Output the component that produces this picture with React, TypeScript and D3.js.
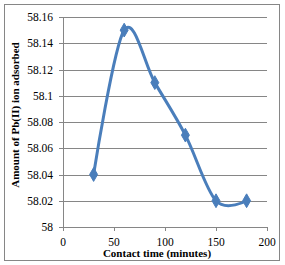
import * as React from 'react'
import * as d3 from 'd3'

const WIDTH = 285
const HEIGHT = 265
const MARGIN = { left: 63, right: 18, top: 17, bottom: 38 }

const contactTimes = [30, 60, 90, 120, 150, 180]
const amountAdsorbed = [58.04, 58.15, 58.11, 58.07, 58.02, 58.02]
const xTicks = [0, 50, 100, 150, 200]
const yTicks = [58, 58.02, 58.04, 58.06, 58.08, 58.1, 58.12, 58.14, 58.16]

const GRAY = '#868686'
const BLUE = '#4a7ebb'
const FONT = '"Liberation Serif", "Times New Roman", serif'

export default function App() {
  const x = d3
    .scaleLinear()
    .domain([0, 200])
    .range([MARGIN.left, WIDTH - MARGIN.right])
  const y = d3
    .scaleLinear()
    .domain([58, 58.16])
    .range([HEIGHT - MARGIN.bottom, MARGIN.top])

  const points: [number, number][] = contactTimes.map((t, i) => [
    x(t),
    y(amountAdsorbed[i])
  ])
  const line = d3.line().curve(d3.curveCardinal.tension(0))(points) || ''
  const diamond = d3.symbol(d3.symbolDiamond, 55)() || ''

  return (
    <svg
      width={WIDTH}
      height={HEIGHT}
      style={{ position: 'absolute', left: 0, top: 0, background: '#fff' }}
    >
      <rect
        x={4.5}
        y={4.5}
        width={275}
        height={256}
        fill="#fff"
        stroke={GRAY}
        strokeWidth={1}
      />
      {/* gridlines */}
      {yTicks.map(v => (
        <line
          key={'g' + v}
          x1={x(0)}
          x2={x(200)}
          y1={Math.round(y(v)) + 0.5}
          y2={Math.round(y(v)) + 0.5}
          stroke={GRAY}
        />
      ))}
      {/* y axis */}
      <line
        x1={x(0) + 0.5}
        x2={x(0) + 0.5}
        y1={y(58.16)}
        y2={y(58)}
        stroke={GRAY}
      />
      {yTicks.map(v => (
        <g key={'y' + v}>
          <line
            x1={x(0) - 4}
            x2={x(0)}
            y1={Math.round(y(v)) + 0.5}
            y2={Math.round(y(v)) + 0.5}
            stroke={GRAY}
          />
          <text
            x={x(0) - 10}
            y={y(v)}
            dy="0.35em"
            textAnchor="end"
            fontFamily={FONT}
            fontSize={11.5}
            fill="#000"
          >
            {d3.format('')(+v.toFixed(2))}
          </text>
        </g>
      ))}
      {/* x axis ticks */}
      {xTicks.map(v => (
        <g key={'x' + v}>
          <line
            x1={Math.round(x(v)) + 0.5}
            x2={Math.round(x(v)) + 0.5}
            y1={y(58)}
            y2={y(58) + 4}
            stroke={GRAY}
          />
          <text
            x={x(v)}
            y={y(58) + 19}
            textAnchor="middle"
            fontFamily={FONT}
            fontSize={11.5}
            fill="#000"
          >
            {v}
          </text>
        </g>
      ))}
      {/* series */}
      <path d={line} fill="none" stroke={BLUE} strokeWidth={3} />
      {points.map(([px, py], i) => (
        <path
          key={'m' + i}
          d={diamond}
          transform={`translate(${px},${py})`}
          fill={BLUE}
          stroke={BLUE}
        />
      ))}
      {/* titles */}
      <text
        x={157}
        y={257}
        textAnchor="middle"
        fontFamily={FONT}
        fontWeight="bold"
        fontSize={11}
        fill="#000"
      >
        Contact time (minutes)
      </text>
      <text
        transform={`translate(19,${115}) rotate(-90)`}
        textAnchor="middle"
        fontFamily={FONT}
        fontWeight="bold"
        fontSize={11}
        fill="#000"
      >
        Amount of Pb(II) ion adsorbed
      </text>
    </svg>
  )
}
